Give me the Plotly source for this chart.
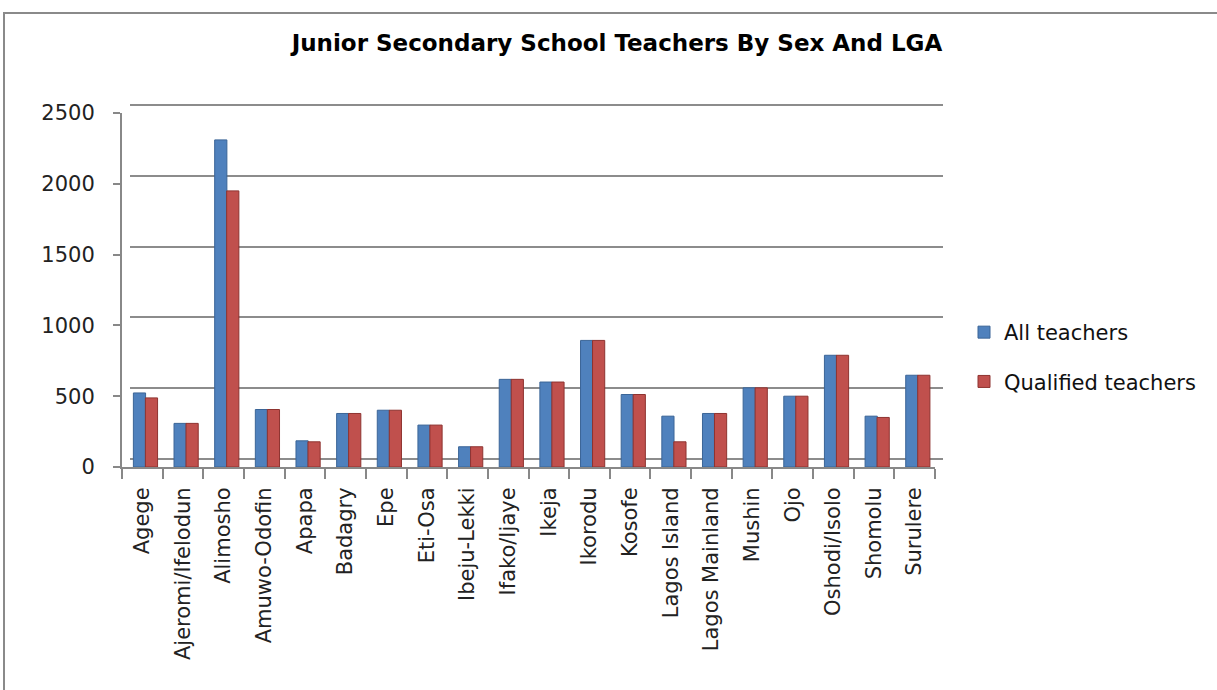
import plotly.graph_objects as go

categories = ["Agege", "Ajeromi/Ifelodun", "Alimosho", "Amuwo-Odofin", "Apapa", "Badagry",
              "Epe", "Eti-Osa", "Ibeju-Lekki", "Ifako/Ijaye", "Ikeja", "Ikorodu", "Kosofe",
              "Lagos Island", "Lagos Mainland", "Mushin", "Ojo", "Oshodi/Isolo", "Shomolu", "Surulere"]
all_teachers = [523, 308, 2310, 406, 185, 378, 401, 296, 143, 619, 600, 894, 512,
                359, 378, 559, 500, 789, 359, 648]
qualified_teachers = [488, 308, 1950, 406, 178, 378, 401, 296, 143, 619, 600, 894, 512,
                      178, 378, 559, 500, 789, 350, 648]
y_ticks = [0, 500, 1000, 1500, 2000, 2500]

W, H = 1217, 690
# paper area in pixels
PL, PR, PT, PB = 122, 947, 100, 472


def px(x):
    return (x - PL) / (PR - PL)


def py(y):
    return (PB - y) / (PB - PT)


# front plane (bars, labels): x 122..935, y 113..467
# back wall (gridlines): shifted 8 px right and 8 px up
DEPTH = 8
FL, FR, FT, FB = 122, 935, 113, 467
YMAX = 2500
ppu = (FB - FT) / YMAX
PAD = 20

fig = go.Figure()
fig.add_trace(go.Bar(x=categories, y=all_teachers, name="All teachers",
                     marker=dict(color="#4F81BD", line=dict(color="#3B6597", width=1)),
                     width=0.3, offset=-0.22, xaxis="x2", yaxis="y2", legendgroup="a"))
fig.add_trace(go.Bar(x=categories, y=qualified_teachers, name="Qualified teachers",
                     marker=dict(color="#C0504D", line=dict(color="#8E3330", width=1)),
                     width=0.3, offset=0.075, xaxis="x2", yaxis="y2", legendgroup="b"))
# back-wall axes carrier (empty)
fig.add_trace(go.Scatter(x=[], y=[], xaxis="x", yaxis="y", showlegend=False, hoverinfo="skip"))

fig.update_layout(
    width=W, height=H,
    margin=dict(l=PL, r=W - PR, t=PT, b=H - PB, autoexpand=False),
    paper_bgcolor="white", plot_bgcolor="rgba(0,0,0,0)",
    barmode="group",
    title=dict(text="<b>Junior Secondary School Teachers By Sex And LGA</b>",
               x=617 / W, xanchor="center", y=1 - 43 / H, yanchor="middle",
               yref="container", xref="container",
               font=dict(family="DejaVu Sans", size=23, color="#000")),
    font=dict(family="DejaVu Sans", size=20, color="#222"),
    legend=dict(x=px(964), xanchor="left", y=py(312), yanchor="top",
                font=dict(family="DejaVu Sans", size=21, color="#111"),
                tracegroupgap=19, bgcolor="rgba(0,0,0,0)", itemwidth=30),
    showlegend=True,
    # back wall
    xaxis=dict(domain=[px(FL + DEPTH), px(FR + DEPTH)], range=[0, 1], visible=True,
               showticklabels=False, ticks="", showgrid=False, zeroline=False, showline=False),
    yaxis=dict(domain=[py(FB - DEPTH + PAD * ppu), py(FT - DEPTH - PAD * ppu)],
               range=[-PAD, YMAX + PAD], tickvals=y_ticks, showticklabels=False, ticks="",
               showgrid=True, gridcolor="#8C8C8C", gridwidth=2, zeroline=False, showline=False),
    # front plane
    xaxis2=dict(domain=[px(FL), px(FR)], anchor="y2", type="category",
                range=[-0.5, len(categories) - 0.5],
                showline=True, linecolor="#888888", linewidth=2,
                ticks="outside", tickson="boundaries", ticklen=10, tickcolor="#888888",
                tickwidth=2, tickangle=-90, showgrid=False, ticklabelstandoff=10,
                tickfont=dict(family="DejaVu Sans", size=21, color="#222")),
    yaxis2=dict(domain=[py(FB), py(FT)], anchor="x2", range=[0, YMAX], tickvals=y_ticks,
                showline=True, linecolor="#888888", linewidth=2, ticks="outside", ticklen=7,
                tickcolor="#888888", tickwidth=2, showgrid=False, zeroline=False,
                tickfont=dict(family="DejaVu Sans", size=21, color="#222"),
                ticklabelstandoff=14),
)

# outer chart frame
fig.add_shape(type="rect", xref="paper", yref="paper",
              x0=px(4), x1=px(W + 20), y0=py(H + 20), y1=py(13),
              line=dict(color="#8A8A8A", width=2), layer="below")

fig.write_html("out.html")
